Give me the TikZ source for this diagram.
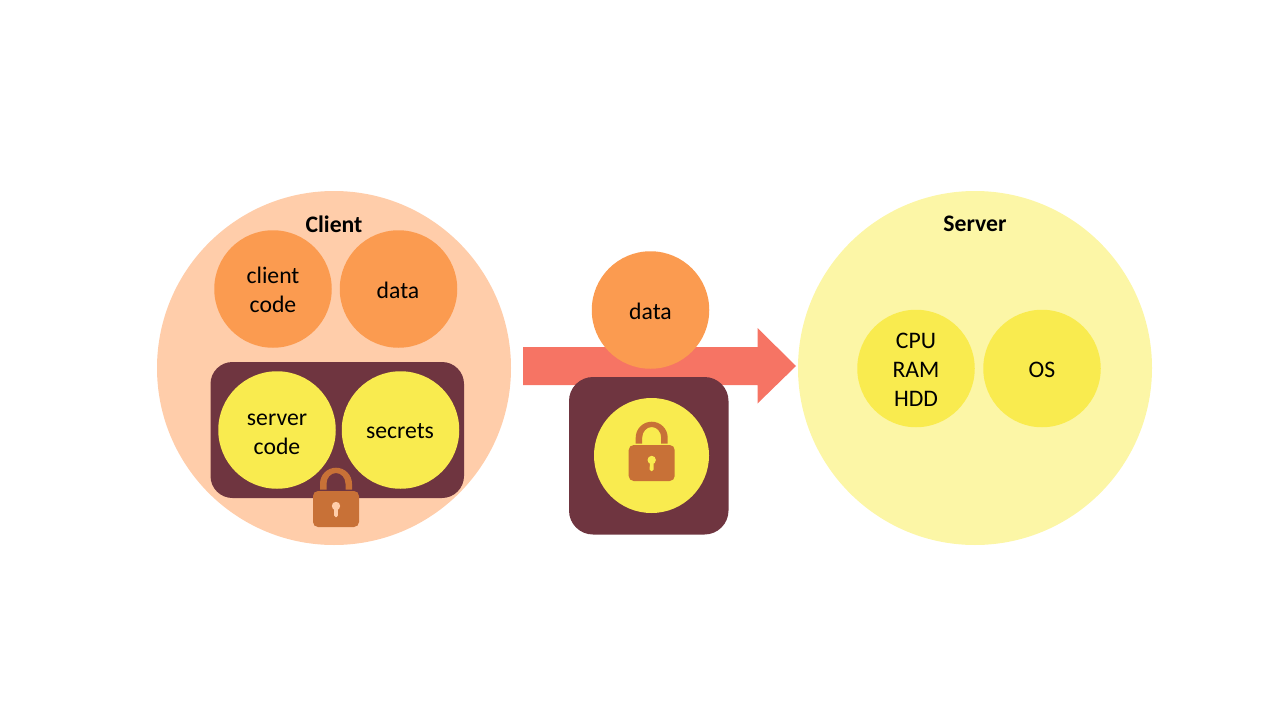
\documentclass[tikz,border=0pt]{standalone}
\usepackage{fontspec}
\setmainfont{Carlito}
\definecolor{peach}{HTML}{FFCDAA}
\definecolor{orangec}{HTML}{FB9B50}
\definecolor{yellowc}{HTML}{F9EB4F}
\definecolor{paley}{HTML}{FCF6A6}
\definecolor{darkb}{HTML}{6F3540}
\definecolor{arrowc}{HTML}{F67464}
\definecolor{lockc}{HTML}{C87137}
\tikzset{
  blob/.style={circle,inner sep=0pt,outer sep=0pt,minimum size=#1},
  txt/.style={align=center,inner sep=0pt,font=\fontsize{23.7}{28.7}\selectfont,text=black},
  title/.style={font=\fontsize{23.7}{28}\selectfont\bfseries,text=black,inner sep=0pt},
  panel/.style={fill=darkb,rounded corners=#1},
}
% lock centred on the body centre
\newcommand{\padlock}[3]{%
  \begin{scope}[shift={(#1,#2)}]
    \fill[lockc]
      (-16,-19.5) -- (-16,-25.3) arc[start angle=180,end angle=360,x radius=16,y radius=16] -- (16,-19.5) -- (9.5,-19.5) -- (9.5,-25.3)
      arc[start angle=360,end angle=180,x radius=9.5,y radius=10.7] -- (-9.5,-19.5) -- cycle;
    \fill[lockc,rounded corners=5] (-23,-18) rectangle (23,18);
    \fill[#3] (0,-3) circle (4.2);
    \fill[#3,rounded corners=1.5] (-1.9,-2) -- (1.9,-2) -- (2,8) -- (-2,8) -- cycle;
  \end{scope}}
\begin{document}
\begin{tikzpicture}[x=1pt,y=-1pt]
\useasboundingbox (0,0) rectangle (1280,720);
% client
\node[blob=354,fill=peach] (client) at (334,368) {};
\node[title] (clientt) at (334,224.3) {Client};
\node[blob=117.5,fill=orangec] (ccode) at (273,289) {};
\node[txt] (ccodet) at (273,289.7) {client\\code};
\node[blob=117.5,fill=orangec] (cdata) at (398.5,289) {};
\node[txt] (cdatat) at (398,290) {data};
\fill[panel=22] (210.5,362) rectangle (464,498);
\node[blob=117.5,fill=yellowc] (scode) at (277,430) {};
\node[txt] (scodet) at (277,434) {server\\code};
\node[blob=117.5,fill=yellowc] (secrets) at (400.5,430) {};
\node[txt] (secretst) at (400,431) {secrets};
\padlock{336}{509}{peach}
% arrow
\fill[arrowc] (523,347) -- (757.5,347) -- (757.5,328) -- (796,366) -- (757.5,403.5) -- (757.5,385) -- (523,385) -- cycle;
% middle
\node[blob=117.5,fill=orangec] (mdata) at (650.5,310) {};
\node[txt] (mdatat) at (650.5,311) {data};
\fill[panel=24] (569,377) rectangle (728.5,534.5);
\node[blob=115,fill=yellowc] (mcode) at (651.5,455.5) {};
\padlock{651.7}{463}{yellowc}
% server
\node[blob=354,fill=paley] (server) at (975,368) {};
\node[title] (servert) at (975,224.3) {Server};
\node[blob=117.5,fill=yellowc] (hw) at (916,368.5) {};
\node[txt] (hwt) at (916,369.7) {CPU\\RAM\\HDD};
\node[blob=117.5,fill=yellowc] (os) at (1042,368.5) {};
\node[txt] (ost) at (1042,369.5) {OS};
\end{tikzpicture}
\end{document}
